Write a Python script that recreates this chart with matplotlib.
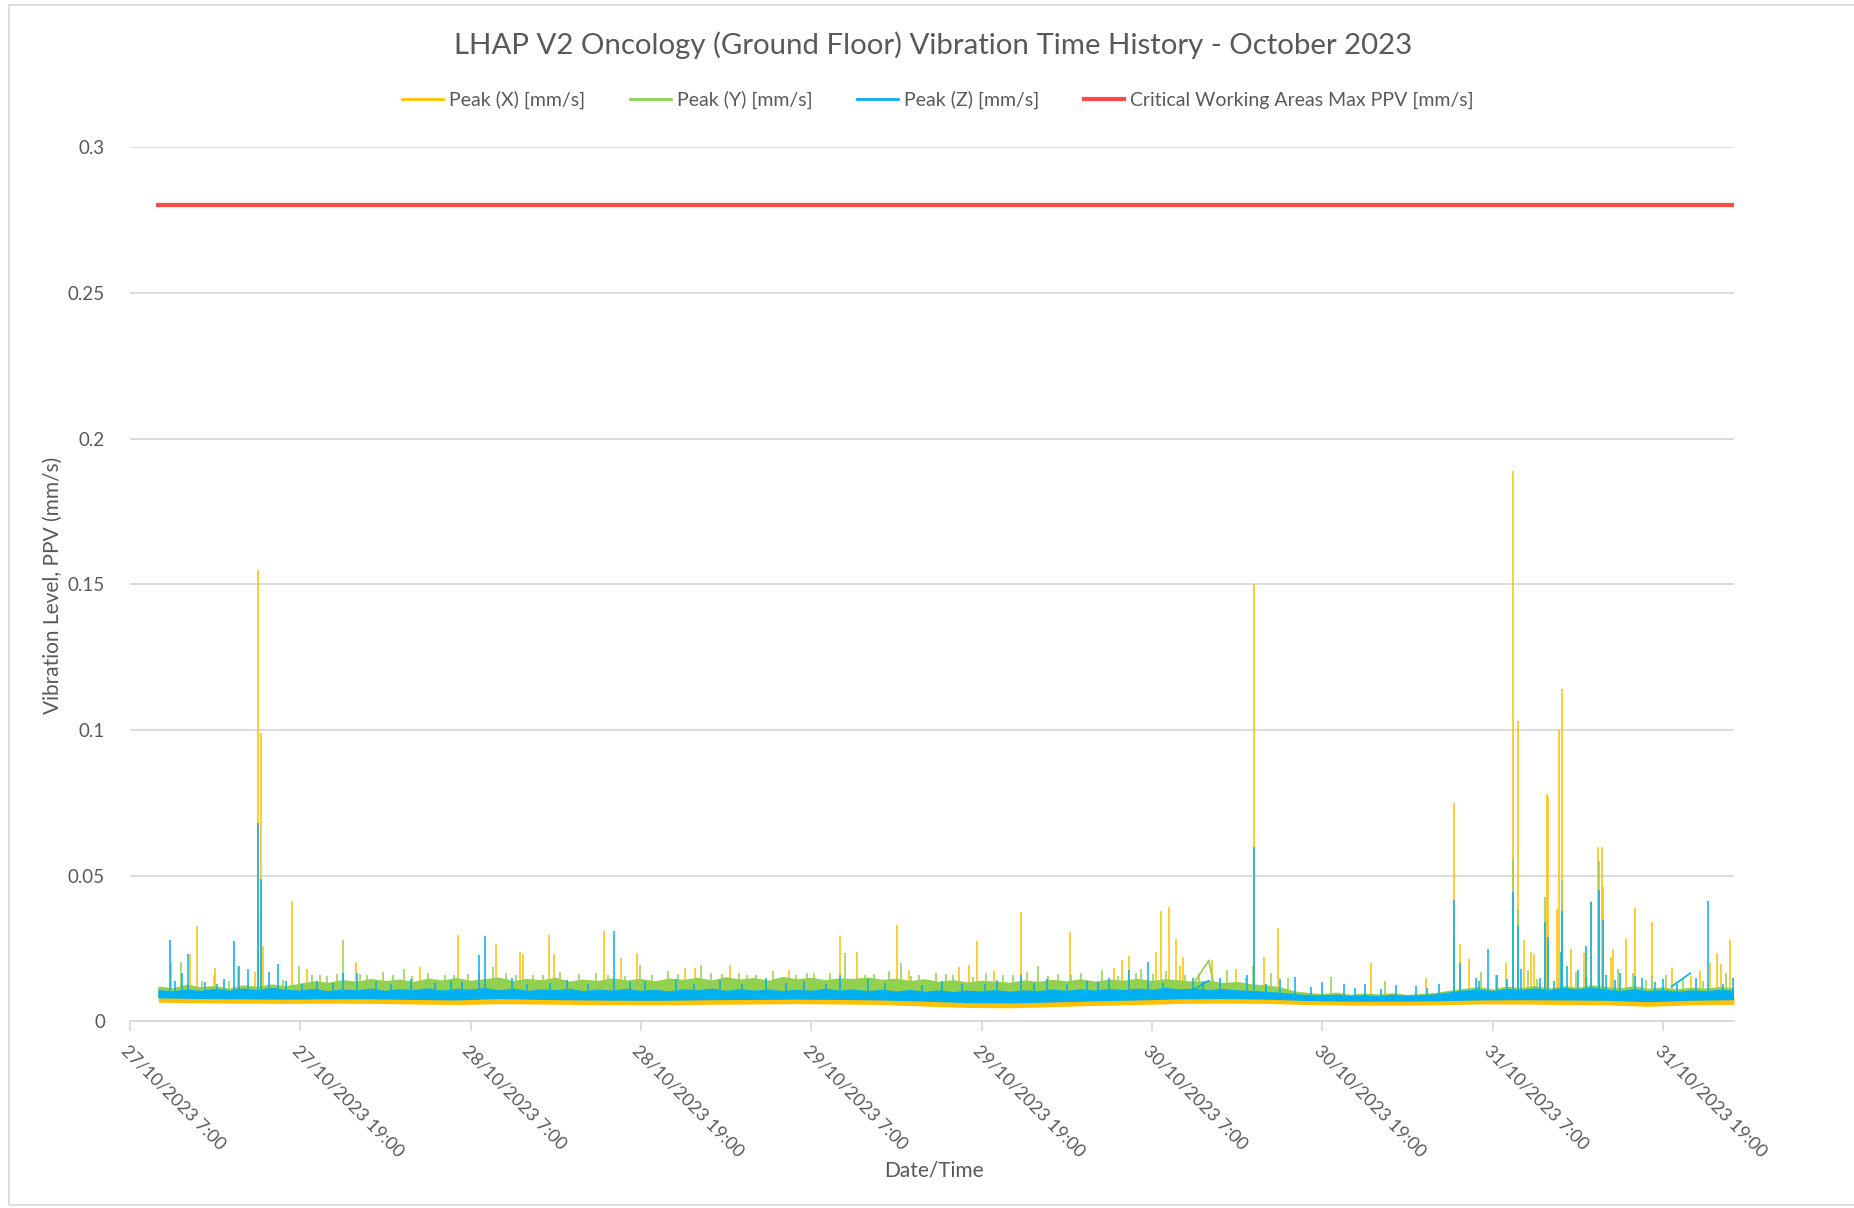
import numpy as np
import matplotlib
matplotlib.use("Agg")
import matplotlib.pyplot as plt
from matplotlib.lines import Line2D
from matplotlib.patches import Rectangle
from matplotlib.transforms import ScaledTranslation

plt.rcParams['font.family'] = ['Lato', 'DejaVu Sans']

# time axis in hours after 27/10/2023 7:00
TICK_HOURS = [0, 12, 24, 36, 48, 60, 72, 84, 96, 108]
TICK_LABELS = ['27/10/2023 7:00', '27/10/2023 19:00', '28/10/2023 7:00', '28/10/2023 19:00',
               '29/10/2023 7:00', '29/10/2023 19:00', '30/10/2023 7:00', '30/10/2023 19:00',
               '31/10/2023 7:00', '31/10/2023 19:00']

# lower envelope of the dense band, read every 3 h (mm/s)
BAND_T = [2, 5, 8, 11, 14, 17, 20, 23, 26, 29, 32, 35, 38, 41, 44, 47, 50, 53, 56,
          59, 62, 65, 68, 71, 74, 77, 80, 83, 86, 89, 92, 95, 98, 101, 104, 107, 110, 113]
X_LO = [.0066, .0064, .0063, .0062, .0063, .0062, .0060, .0058, .0061, .0060, .0058, .0057, .0057,
        .0059, .0060, .0061, .0060, .0058, .0053, .0048, .0047, .0051, .0055, .0058, .0062, .0063,
        .0062, .0058, .0056, .0056, .0057, .0060, .0060, .0058, .0057, .0052, .0057, .0059]
X_HI = [.0085, .0083, .0082, .0085, .0086, .0084, .0083, .0082, .0088, .0085, .0082, .0080, .0082,
        .0085, .0084, .0086, .0084, .0082, .0078, .0074, .0073, .0076, .0080, .0084, .0088, .0088,
        .0086, .0080, .0076, .0075, .0076, .0080, .0085, .0084, .0082, .0078, .0080, .0082]
Y_LO = [.0082, .0080, .0082, .0085, .0088, .0088, .0087, .0085, .0090, .0088, .0085, .0084, .0085,
        .0088, .0088, .0088, .0086, .0084, .0080, .0076, .0075, .0078, .0082, .0086, .0088, .0086,
        .0082, .0075, .0072, .0071, .0072, .0076, .0080, .0080, .0078, .0072, .0075, .0078]
Z_LO = [.0079, .0077, .0076, .0075, .0076, .0076, .0074, .0072, .0077, .0074, .0072, .0071, .0071,
        .0073, .0074, .0075, .0074, .0072, .0068, .0063, .0062, .0065, .0069, .0072, .0076, .0077,
        .0075, .0070, .0068, .0068, .0069, .0072, .0073, .0072, .0071, .0066, .0071, .0073]

# upper envelope of the dense band, read every hour (mm/s)
EDGE_T = list(range(2, 114))
Y_HI = [.0120, .0114, .0126, .0118, .0122, .0112, .0124, .0119, .0127, .0121,
        .0130, .0138, .0133, .0142, .0137, .0146, .0139, .0144, .0136, .0147,
        .0141, .0149, .0140, .0145, .0151, .0139, .0146, .0142, .0150, .0137,
        .0144, .0139, .0148, .0141, .0146, .0138, .0147, .0143, .0150, .0141,
        .0152, .0144, .0149, .0140, .0153, .0145, .0150, .0142, .0148, .0146,
        .0151, .0143, .0147, .0139, .0145, .0136, .0142, .0134, .0140, .0137,
        .0133, .0141, .0136, .0143, .0138, .0145, .0137, .0144, .0140, .0146,
        .0139, .0145, .0141, .0136, .0140, .0132, .0136, .0128, .0124, .0118,
        .0104, .0098, .0094, .0099, .0092, .0096, .0093, .0097, .0091, .0095,
        .0098, .0106, .0112, .0118, .0110, .0120, .0115, .0122, .0113, .0121,
        .0116, .0124, .0118, .0114, .0121, .0112, .0117, .0110, .0116, .0113,
        .0118, .0115]
Z_HI = [.0108, .0103, .0110, .0105, .0112, .0106, .0113, .0108, .0115, .0109,
        .0106, .0112, .0104, .0110, .0107, .0113, .0105, .0111, .0108, .0114,
        .0106, .0112, .0109, .0115, .0107, .0113, .0105, .0110, .0108, .0112,
        .0104, .0110, .0106, .0112, .0105, .0109, .0103, .0111, .0107, .0113,
        .0105, .0111, .0106, .0110, .0104, .0109, .0105, .0112, .0106, .0110,
        .0104, .0109, .0103, .0108, .0102, .0107, .0101, .0106, .0103, .0108,
        .0102, .0107, .0104, .0110, .0105, .0111, .0106, .0112, .0108, .0113,
        .0109, .0115, .0110, .0113, .0108, .0112, .0107, .0105, .0102, .0099,
        .0094, .0091, .0089, .0092, .0088, .0090, .0087, .0091, .0088, .0090,
        .0093, .0100, .0106, .0110, .0104, .0112, .0108, .0114, .0107, .0115,
        .0110, .0116, .0109, .0105, .0111, .0104, .0108, .0102, .0107, .0104,
        .0109, .0106]

# peaks above the band
X_SPK_T = [4.2, 4.7, 5.9, 6.0, 7.6, 8.8, 9.0, 9.2, 9.4, 11.4, 12.5, 15.9, 20.4, 23.1, 25.8, 27.5,
           27.7, 29.5, 29.9, 33.4, 34.6, 35.7, 39.1, 39.8, 42.3, 46.4, 50.0, 51.2, 54.0, 54.9, 58.4,
           59.1, 59.7, 60.9, 62.8, 66.2, 69.3, 69.9, 70.4, 72.3, 72.6, 73.2, 73.7, 74.0, 74.2, 76.2,
           77.9, 79.2, 79.9, 80.9, 87.4, 91.3, 93.3, 93.7, 94.3, 96.9, 97.4, 97.8, 98.2, 98.7, 98.9,
           99.8, 99.9, 100.5, 100.7, 100.9, 101.5, 102.4, 102.9, 103.4, 103.7, 103.8, 104.3, 104.5,
           105.4, 106.0, 107.2, 108.6, 110.0, 110.6, 111.3, 111.8, 112.1, 112.7]
X_SPK_V = [.023, .0326, .016, .0184, .0188, .017, .155, .099, .026, .0415, .018, .0205, .0188, .0295,
           .0267, .0239, .023, .0295, .023, .0312, .0218, .0235, .0185, .0185, .0195, .0176, .0292,
           .024, .033, .0176, .0188, .0193, .0275, .0174, .0375, .0307, .0184, .021, .0224, .0239,
           .038, .0392, .0284, .019, .022, .021, .018, .150, .022, .032, .0199, .0148, .075, .0265,
           .0216, .0199, .189, .103, .028, .024, .023, .078, .077, .0386, .100, .114, .0247, .0235,
           .0415, .060, .060, .046, .022, .025, .0284, .039, .0343, .0185, .0156, .0173, .0199,
           .0235, .0197, .0278]
Y_SPK_T = [2.9, 3.6, 9.0, 11.9, 15.0, 19.3, 25.6, 35.9, 40.2, 50.4, 54.3, 64.0, 79.1, 84.6, 88.4,
           93.3, 95.2, 97.4, 97.8, 99.7, 100.9, 103.5, 107.2,
           12.8, 13.9, 14.6, 16.7, 17.8, 18.5, 21.0, 22.2, 23.8, 26.5, 27.2, 28.4, 30.3, 31.6, 32.8,
           36.8, 37.9, 40.9, 42.9, 44.1, 45.3, 46.9, 48.2, 49.3, 52.4, 53.5, 55.6, 56.8, 58.0, 60.3,
           61.5, 63.2, 65.4, 67.0, 68.5, 70.9, 71.2, 73.0, 75.3, 77.3, 80.4, 81.6, 96.2, 98.5,
           101.9, 104.8, 105.9, 108.2, 109.4, 112.4,
           5.1, 7.0, 10.8, 13.4, 16.2, 19.9, 22.8, 24.6, 29.1, 33.7, 34.9, 38.6, 41.7, 43.5, 47.7,
           51.8, 55.0, 57.5, 59.4, 62.2, 64.7, 66.3, 69.6, 72.1, 74.3, 78.6, 99.1, 102.6, 106.8,
           110.8]
Y_SPK_V = [.020, .0205, .035, .019, .028, .018, .0188, .0195, .0193, .0236, .0199, .019, .019, .0153,
           .014, .030, .017, .0557, .0386, .0426, .0486, .055, .0157,
           .0160, .0155, .0162, .0158, .0170, .0160, .0165, .0158, .0162, .0168, .0160, .0158, .0170,
           .0162, .0165, .0160, .0172, .0168, .0165, .0160, .0172, .0158, .0165, .0168, .0163, .0172,
           .0160, .0166, .0158, .0168, .0160, .0170, .0162, .0166, .0175, .0168, .0180, .0172, .0165,
           .0178, .0165, .0150, .0160, .0175, .0170, .0180, .0165, .0160, .0150, .0165,
           .0138, .0140, .0142, .0158, .0163, .0156, .0160, .0166, .0159, .0161, .0157, .0163, .0162,
           .0158, .0165, .0160, .0156, .0163, .0152, .0158, .0155, .0160, .0157, .0162, .0158,
           .0150, .0145, .0148, .0142, .0140]
Z_SPK_T = [2.8, 3.7, 4.1, 7.3, 7.7, 8.3, 9.0, 9.2, 9.8, 10.4, 15.0, 16.0, 24.6, 25.0, 34.1, 50.0,
           62.8, 70.4, 71.7, 78.7, 79.2, 82.1, 93.3, 93.7, 95.7, 97.4, 97.8, 99.7, 99.9, 100.8, 100.9,
           102.6, 102.9, 103.5, 103.8, 111.2,
           3.2, 5.3, 6.6, 11.0, 13.2, 17.3, 19.8, 22.6, 26.9, 30.8, 36.3, 38.5, 41.6, 44.8, 47.5,
           52.0, 57.2, 61.1, 64.6, 67.4, 69.0, 74.9, 76.8, 81.0, 84.0, 85.5, 87.0, 89.2, 90.6, 92.2,
           94.8, 96.3, 98.0, 101.2, 102.0, 104.0, 105.0, 106.5, 108.0, 110.3, 112.9,
           6.1, 12.1, 14.3, 18.4, 21.5, 23.4, 28.0, 29.6, 32.3, 35.2, 39.7, 43.1, 46.2, 49.0, 53.2,
           55.8, 58.6, 60.2, 63.7, 66.0, 68.2, 72.8, 75.6, 80.0, 83.2, 86.3, 88.1, 91.4, 95.0,
           97.0, 99.3, 100.3, 104.6, 106.0, 107.4, 109.0, 112.2]
Z_SPK_V = [.0278, .0166, .023, .0275, .019, .018, .068, .049, .017, .0197, .0166, .0166, .0227,
           .0293, .0312, .016, .016, .0176, .0205, .016, .060, .0153, .0417, .020, .0248, .0443,
           .0326, .034, .029, .024, .038, .026, .041, .045, .0347, .0415,
           .0140, .0135, .0145, .0140, .0138, .0140, .0145, .0140, .0148, .0142, .0140, .0145, .0142,
           .0148, .0140, .0145, .0140, .0142, .0145, .0140, .0150, .0148, .0150, .0145, .0135, .0130,
           .0128, .0125, .0122, .0130, .0150, .0160, .0180, .0190, .0175, .0160, .0165, .0150, .0145,
           .0150, .0150,
           .0130, .0128, .0133, .0127, .0131, .0135, .0129, .0132, .0128, .0134, .0130, .0127, .0133,
           .0129, .0131, .0126, .0130, .0128, .0132, .0127, .0134, .0131, .0136, .0130, .0118, .0115,
           .0113, .0116, .0140, .0145, .0150, .0138, .0142, .0155, .0135, .0130, .0128]

# straight joins across logging gaps
Y_GAP_T = [74.6, 76.0, 76.4]
Y_GAP_V = [.0105, .021, .011]
Z_GAP_T = [74.6, 76.0, 108.6, 109.9]
Z_GAP_V = [.0100, .0140, .0120, .0165]

CRIT_T = [2, 113]
CRIT_V = [0.28, 0.28]

YEL, GRN, BLU, RED = '#FFC000', '#92D050', '#00B0F0', '#FF4A4A'
GRID = '#D9D9D9'
TXT = '#595959'

fig = plt.figure(figsize=(18.54, 12.08), dpi=100)
ax = fig.add_axes([0.0701, 0.1544, 0.8652, 0.7239])

SPK_BASE = 0.008
SPK_LW = 1.1

ax.fill_between(BAND_T, X_LO, X_HI, color=YEL, lw=0, zorder=2)
ax.vlines(X_SPK_T, SPK_BASE, X_SPK_V, color=YEL, lw=SPK_LW, zorder=2)

# band polygons: hourly top edge, 3-hourly bottom edge
ax.fill(EDGE_T + BAND_T[::-1], Y_HI + Y_LO[::-1], color=GRN, lw=0, zorder=3)
ax.vlines(Y_SPK_T, SPK_BASE, Y_SPK_V, color=GRN, lw=SPK_LW, zorder=3)
ax.plot(Y_GAP_T, Y_GAP_V, color=GRN, lw=1.2, zorder=3)

ax.fill(EDGE_T + BAND_T[::-1], Z_HI + Z_LO[::-1], color=BLU, lw=0, zorder=4)
ax.vlines(Z_SPK_T, SPK_BASE, Z_SPK_V, color=BLU, lw=SPK_LW, zorder=4)
ax.plot(Z_GAP_T[:2], Z_GAP_V[:2], color=BLU, lw=1.2, zorder=4)
ax.plot(Z_GAP_T[2:], Z_GAP_V[2:], color=BLU, lw=1.2, zorder=4)

ax.plot(CRIT_T, CRIT_V, color=RED, lw=3.0, zorder=5)

ax.set_xlim(0, 113)
ax.set_ylim(0, 0.3)
ax.set_yticks([0, 0.05, 0.1, 0.15, 0.2, 0.25, 0.3])
ax.set_yticklabels(['0', '0.05', '0.1', '0.15', '0.2', '0.25', '0.3'])
ax.set_xticks(TICK_HOURS)
ax.set_xticklabels(TICK_LABELS, rotation=-45, ha='left', va='top', rotation_mode='anchor')
shift = ScaledTranslation(7 / 100, 0, fig.dpi_scale_trans)
for lab in ax.get_xticklabels():
    lab.set_transform(lab.get_transform() + shift)
ax.tick_params(axis='y', length=0, pad=18, labelsize=13.5, labelcolor=TXT)
ax.tick_params(axis='x', length=7, width=1.3, color=GRID, pad=8, labelsize=13, labelcolor=TXT)
ax.grid(axis='y', color=GRID, lw=1.3)
ax.set_axisbelow(True)
for s in ['top', 'right', 'left']:
    ax.spines[s].set_visible(False)
ax.spines['bottom'].set_color(GRID)
ax.spines['bottom'].set_linewidth(1.3)
ax.spines['bottom'].set_zorder(1)

fig.text(0.5035, 0.9627, 'LHAP V2 Oncology (Ground Floor) Vibration Time History - October 2023',
         ha='center', va='center', fontsize=21.2, color=TXT)
fig.text(0.5035, 0.031, 'Date/Time', ha='center', va='center', fontsize=15, color=TXT)
fig.text(0.0286, 0.5157, 'Vibration Level, PPV (mm/s)', ha='center', va='center',
         rotation=90, fontsize=15, color=TXT)

handles = [Line2D([], [], color=YEL, lw=2), Line2D([], [], color=GRN, lw=2),
           Line2D([], [], color=BLU, lw=2), Line2D([], [], color=RED, lw=3.0)]
labels = ['Peak (X) [mm/s]', 'Peak (Y) [mm/s]', 'Peak (Z) [mm/s]',
          'Critical Working Areas Max PPV [mm/s]']
fig.legend(handles, labels, loc='center', bbox_to_anchor=(0.506, 0.917), ncol=4, frameon=False,
           fontsize=14, handlelength=2.1, handletextpad=0.3, columnspacing=2.3, labelcolor=TXT)

fig.patches.append(Rectangle((0.005, 0.0025), 1.5, 0.9934, transform=fig.transFigure,
                             fill=False, edgecolor=GRID, lw=1.3))

fig.savefig('out.png', dpi=100)
